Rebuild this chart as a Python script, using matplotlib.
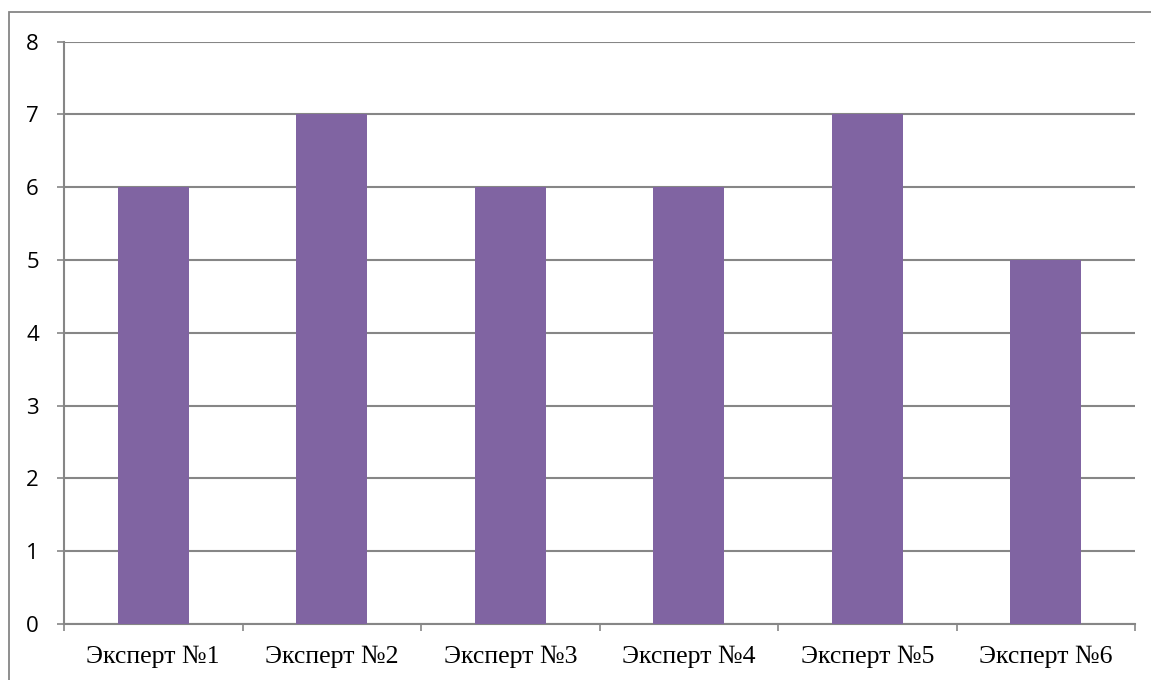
import numpy as np
import matplotlib.pyplot as plt
from matplotlib.patches import Rectangle

experts = ['Эксперт №1', 'Эксперт №2', 'Эксперт №3', 'Эксперт №4', 'Эксперт №5', 'Эксперт №6']
scores = [6, 7, 6, 6, 7, 5]
y_ticks = [0, 1, 2, 3, 4, 5, 6, 7, 8]

grey = '#868686'
purple = '#8064A2'

fig = plt.figure(figsize=(11.51, 6.80), dpi=100)
ax = fig.add_axes([64 / 1151, 1 - 624 / 680, (1135 - 64) / 1151, (624 - 41.5) / 680])

x = np.arange(len(experts))
ax.bar(x, scores, width=0.4, color=purple, zorder=3)

ax.set_xlim(-0.5, len(experts) - 0.5)
ax.set_ylim(0, 8)
ax.set_yticks(y_ticks)
ax.set_yticklabels([str(v) for v in y_ticks], fontsize=16, family='Open Sans')
ax.yaxis.grid(True, color=grey, linewidth=1.5, zorder=0)
ax.tick_params(axis='y', length=5, width=1.2, color=grey, pad=13)

# category labels centered, tick marks at category boundaries
ax.set_xticks(x)
ax.set_xticklabels(experts, fontsize=18.5, family='Liberation Serif')
ax.tick_params(axis='x', which='major', length=0, pad=15.5)
ax.set_xticks(np.arange(len(experts) + 1) - 0.5, minor=True)
ax.tick_params(axis='x', which='minor', length=5, width=1.2, color=grey)

for side in ['top', 'right']:
    ax.spines[side].set_visible(False)
for side in ['left', 'bottom']:
    ax.spines[side].set_color(grey)
    ax.spines[side].set_linewidth(1.5)

# chart frame
fig.patches.append(Rectangle((9 / 1151, -0.05), 1.2, (680 - 12) / 680 + 0.05,
                             transform=fig.transFigure, fill=False,
                             edgecolor=grey, linewidth=1.3))

fig.savefig('out.png', dpi=100)
